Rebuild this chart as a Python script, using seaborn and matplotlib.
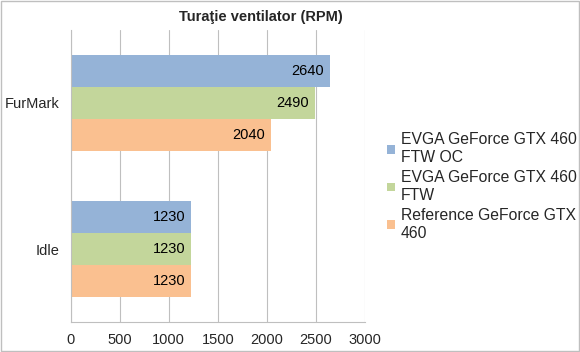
import numpy as np
import pandas as pd
import matplotlib
matplotlib.use("Agg")
import matplotlib.pyplot as plt
from matplotlib.patches import Patch
import seaborn as sns

categories = ["FurMark", "Idle"]
series = ["EVGA GeForce GTX 460 FTW OC", "EVGA GeForce GTX 460 FTW", "Reference GeForce GTX 460"]
legend_labels = ["EVGA GeForce GTX 460\nFTW OC", "EVGA GeForce GTX 460\nFTW", "Reference GeForce GTX\n460"]
ftw_oc = [2640, 1230]
ftw = [2490, 1230]
reference = [2040, 1230]
colors = ["#95B3D7", "#C3D69B", "#FAC090"]

rows = []
for s, vals in zip(series, [ftw_oc, ftw, reference]):
    for c, v in zip(categories, vals):
        rows.append({"cat": c, "series": s, "rpm": v})
df = pd.DataFrame(rows)

sns.set_style("white")
plt.rcParams["font.family"] = ["Liberation Sans", "DejaVu Sans"]

fig = plt.figure(figsize=(5.8, 3.52), dpi=100)
ax = fig.add_axes([0.122, 0.085, 0.507, 0.83])

sns.barplot(data=df, y="cat", x="rpm", hue="series", hue_order=series, order=categories,
            palette=colors, orient="h", width=0.66, gap=0, ax=ax, legend=False,
            edgecolor="none", saturation=1)

# value labels right-aligned inside bar ends
for cont in ax.containers:
    for p in cont.patches:
        w = p.get_width()
        ax.annotate(f"{w:.0f}", (w, p.get_y() + p.get_height() / 2),
                    xytext=(-4, 0), textcoords="offset points",
                    ha="right", va="center", fontsize=10.5, color="#000000")

ax.set_xlim(0, 3000)
ax.set_xticks(np.arange(0, 3001, 500))
ax.set_xlabel("")
ax.set_ylabel("")
ax.grid(axis="x", color="#BFBFBF", linewidth=0.8)
ax.set_axisbelow(True)
ax.tick_params(axis="both", labelsize=10.5, length=0, pad=8)
for sp in ["top", "right"]:
    ax.spines[sp].set_visible(False)
for sp in ["left", "bottom"]:
    ax.spines[sp].set_color("#BFBFBF")
    ax.spines[sp].set_linewidth(0.8)

fig.text(0.45, 0.952, "Turaţie ventilator (RPM)", fontsize=10.5, fontweight="bold",
         ha="center", va="center")

handles = [Patch(facecolor=c, edgecolor="none") for c in colors]
leg = fig.legend(handles, legend_labels, loc="center left", bbox_to_anchor=(0.668, 0.47),
                 frameon=False, fontsize=11.3, handlelength=0.5, handleheight=0.5,
                 handletextpad=0.35, labelspacing=0.3, borderaxespad=0, borderpad=0)
for t in leg.get_texts():
    t.set_linespacing(1.25)

fig.patches.append(plt.Rectangle((0.001, 0.002), 0.997, 0.995, transform=fig.transFigure,
                                 fill=False, edgecolor="#BFBFBF", linewidth=1))

fig.savefig("out.png", dpi=100)
